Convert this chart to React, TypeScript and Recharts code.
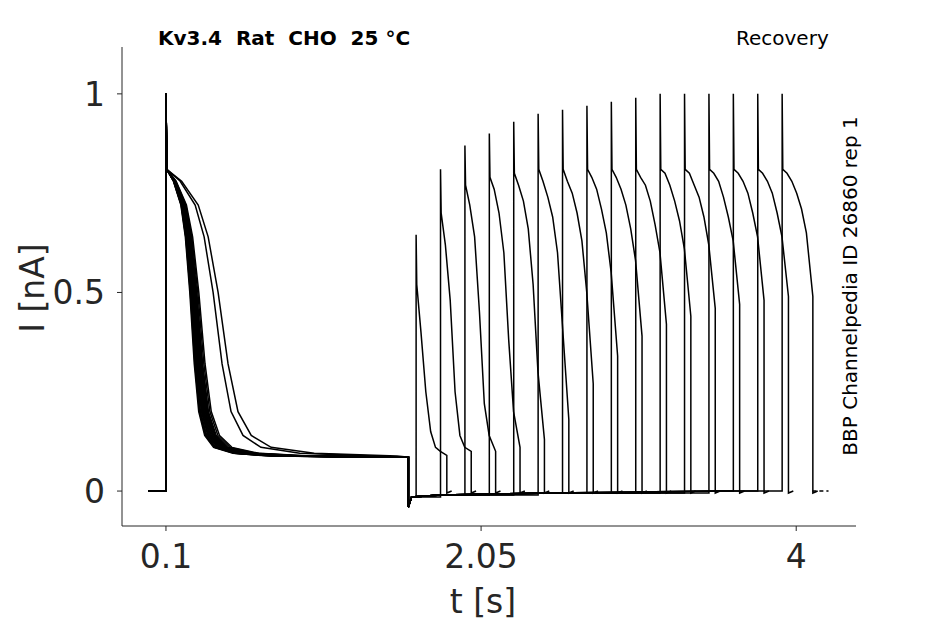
import { LineChart, Line, XAxis, YAxis } from "recharts";

// first pulse (shared by all sweeps), time relative to 0.1 s onset
const firstRelT = [0, 0, 0.005, 0.05, 0.1, 0.13, 0.16, 0.19, 0.22, 0.26, 0.32, 0.45, 0.7, 1.5];
const firstVals = [0, 1, 0.81, 0.78, 0.72, 0.64, 0.5, 0.32, 0.2, 0.14, 0.11, 0.095, 0.088, 0.085];
// time stretch of the inactivation per sweep
const sweepStretch = [1, 1.04, 1.08, 0.95, 1.12, 1.16, 0.92, 1.2, 1.06, 1.24, 1.0, 0.97, 1.1, 1.28, 1.14, 1.85, 2.05, 1.02, 1.18, 0.94];

// baseline after the first pulse ends at 1.6 s
const recovT = [1.6, 1.6, 1.62, 1.8, 2.5, 3.5, 4.3];
const recovV = [0.085, -0.04, -0.015, -0.01, -0.005, 0, 0];

// second pulses
const secondStart = [1.648, 1.799, 1.95, 2.101, 2.252, 2.403, 2.554, 2.705, 2.856, 3.007, 3.158, 3.309, 3.46, 3.611, 3.762, 3.913];
const secondRelT = [0, 0.004, 0.03, 0.06, 0.09, 0.12, 0.15, 0.19];
const secondVals = [
  [0.645, 0.52, 0.4, 0.25, 0.15, 0.11, 0.1, 0.09],
  [0.81, 0.7, 0.62, 0.48, 0.25, 0.14, 0.11, 0.1],
  [0.87, 0.77, 0.72, 0.64, 0.45, 0.22, 0.14, 0.1],
  [0.9, 0.79, 0.76, 0.7, 0.6, 0.38, 0.2, 0.11],
  [0.93, 0.8, 0.77, 0.73, 0.66, 0.52, 0.3, 0.13],
  [0.95, 0.81, 0.78, 0.74, 0.69, 0.6, 0.42, 0.18],
  [0.96, 0.81, 0.78, 0.75, 0.7, 0.63, 0.5, 0.27],
  [0.97, 0.81, 0.79, 0.76, 0.71, 0.65, 0.55, 0.34],
  [0.98, 0.81, 0.79, 0.76, 0.72, 0.66, 0.58, 0.39],
  [0.99, 0.81, 0.79, 0.77, 0.73, 0.67, 0.6, 0.42],
  [1, 0.81, 0.8, 0.77, 0.73, 0.68, 0.61, 0.44],
  [1, 0.81, 0.8, 0.77, 0.74, 0.69, 0.62, 0.46],
  [1, 0.81, 0.8, 0.78, 0.74, 0.69, 0.63, 0.47],
  [1, 0.81, 0.8, 0.78, 0.75, 0.7, 0.64, 0.48],
  [1, 0.81, 0.8, 0.78, 0.75, 0.7, 0.64, 0.49],
  [1, 0.81, 0.8, 0.78, 0.75, 0.71, 0.65, 0.49],
];

const xTicks = [0.1, 2.05, 4];
const yTicks = [0, 0.5, 1];

type Pt = { t: number; v: number };

function firstPart(stretch: number): Pt[] {
  const pts: Pt[] = [{ t: -0.01, v: 0 }];
  firstRelT.forEach((rt, i) => {
    const t = 0.1 + (i < 3 ? rt : 0.005 + (rt - 0.005) * stretch);
    if (t < 1.6) pts.push({ t, v: firstVals[i] });
  });
  pts.push({ t: 1.6, v: 0.085 });
  return pts;
}

function sweep(idx: number): Pt[] {
  const pts = firstPart(sweepStretch[idx % sweepStretch.length]);
  if (idx >= secondStart.length) {
    recovT.forEach((t, i) => i > 0 && t < 1.7 && pts.push({ t, v: recovV[i] }));
    return pts;
  }
  const t2 = secondStart[idx];
  let last = 0;
  recovT.forEach((t, i) => {
    if (i > 0 && t < t2) {
      pts.push({ t, v: recovV[i] });
      last = recovV[i];
    }
  });
  pts.push({ t: t2, v: last });
  secondRelT.forEach((rt, i) => pts.push({ t: t2 + rt, v: secondVals[idx][i] }));
  const end = t2 + secondRelT[secondRelT.length - 1];
  pts.push({ t: end, v: -0.005 });
  pts.push({ t: end + 0.03, v: 0 });
  return pts;
}

const sweeps = Array.from({ length: 20 }, (_, i) => sweep(i));
const tail: Pt[] = [{ t: 4.1, v: 0 }, { t: 4.2, v: 0 }];

const font = "DejaVu Sans, sans-serif";

export default function App() {
  return (
    <div style={{ position: "relative", width: 929, height: 616, fontFamily: font }}>
      <LineChart width={929} height={616} margin={{ top: 39, right: 81, left: 34, bottom: 38 }}>
        <XAxis
          type="number"
          dataKey="t"
          domain={[-0.172, 4.37]}
          ticks={xTicks}
          allowDataOverflow
          height={60}
          tickFormatter={(v) => String(v)}
          tick={{ fontSize: 33, fill: "#262626", fontFamily: font }}
          tickSize={5}
          tickMargin={14}
          stroke="#262626"
        />
        <YAxis
          type="number"
          dataKey="v"
          domain={[-0.088, 1.118]}
          ticks={yTicks}
          allowDataOverflow
          width={80}
          tick={{ fontSize: 33, fill: "#262626", fontFamily: font }}
          tickSize={5}
          tickMargin={12}
          stroke="#262626"
        />
        {sweeps.map((d, i) => (
          <Line
            key={i}
            data={d}
            dataKey="v"
            type="linear"
            stroke="#000"
            strokeWidth={1.5}
            dot={false}
            isAnimationActive={false}
          />
        ))}
        <Line data={tail} dataKey="v" stroke="#000" strokeWidth={1.5} strokeDasharray="4 3" dot={false} isAnimationActive={false} />
      </LineChart>
      <div style={{ position: "absolute", left: 150, top: 18, fontSize: 20, fontWeight: "bold" }}>
        Kv3.4&nbsp;&nbsp;Rat&nbsp;&nbsp;CHO&nbsp;&nbsp;25 °C
      </div>
      <div style={{ position: "absolute", left: 728, top: 18, fontSize: 20 }}>Recovery</div>
      <div
        style={{
          position: "absolute",
          left: 842,
          top: 278,
          fontSize: 20,
          whiteSpace: "nowrap",
          transform: "translate(-50%, -50%) rotate(-90deg)",
        }}
      >
        BBP Channelpedia ID 26860 rep 1
      </div>
      <div
        style={{
          position: "absolute",
          left: 24,
          top: 280,
          fontSize: 33,
          color: "#262626",
          whiteSpace: "nowrap",
          transform: "translate(-50%, -50%) rotate(-90deg)",
        }}
      >
        I [nA]
      </div>
      <div style={{ position: "absolute", left: 475, top: 574, fontSize: 33, color: "#262626", transform: "translateX(-50%)" }}>
        t [s]
      </div>
    </div>
  );
}
